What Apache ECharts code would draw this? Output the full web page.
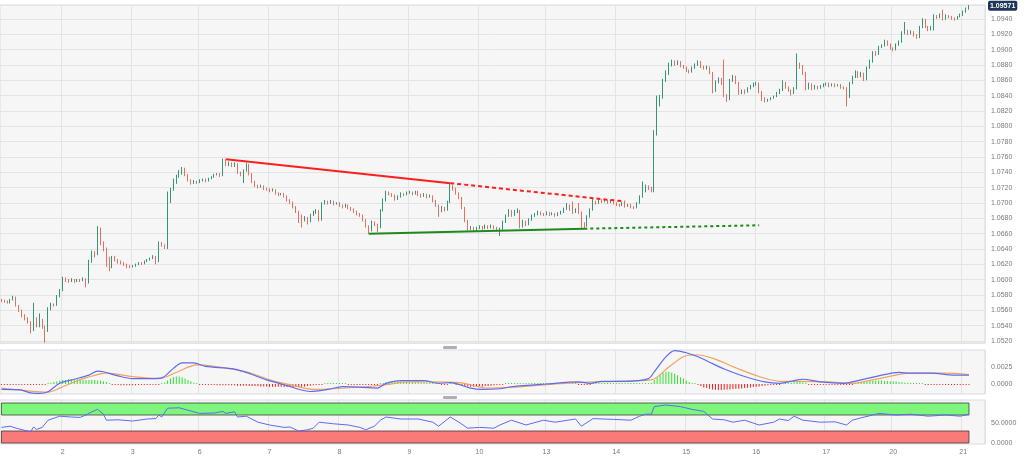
<!DOCTYPE html>
<html><head><meta charset="utf-8">
<script src="https://cdn.jsdelivr.net/npm/echarts@6/dist/echarts.min.js"></script>
<style>html,body{margin:0;padding:0;background:#fff;}#c{width:1024px;height:456px;}</style>
</head><body><div id="c"></div>
<script>
// EUR/USD hourly candles. Values in pips above 1.0000 : [open, close, low, high]
const nov01 = [[574,573,571,575],[573,572,570,574],[572,570,569,573],[570,574,569,575],[574,577,573,579],[577,566,565,578],[566,560,558,567],[560,553,551,561],[553,549,547,555],[549,545,543,551],[545,535,530,546],[535,549,533,570],[549,540,538,551],[540,548,538,556],[548,538,536,549],[538,534,518,540],[534,562,532,564],[562,568,560,570],[568,567,565,569],[567,578,566,580],[578,586,577,588]];
const nov02 = [[586,602,585,604],[602,599,597,603],[599,598,596,601],[598,600,597,602],[600,598,596,601],[598,600,597,601],[600,599,597,601],[599,601,598,603],[601,596,590,602],[596,624,595,626],[624,636,622,638],[636,633,629,637],[633,667,632,670],[667,648,645,668],[648,640,637,650],[640,629,617,642],[629,617,611,630],[617,629,615,631],[629,626,624,631],[626,624,621,627],[624,622,620,625],[622,620,618,623],[620,618,615,621],[618,617,615,619]];
const nov03 = [[617,618,616,619],[618,620,617,621],[620,622,619,623],[622,621,619,623],[621,624,620,625],[624,626,623,627],[626,628,625,629],[628,630,627,632],[630,624,620,631],[624,648,623,650],[648,645,643,649],[645,643,640,646],[643,711,640,715],[711,718,700,720],[718,727,716,732],[727,735,725,737],[735,739,733,743],[739,745,737,747],[745,737,735,746],[737,730,728,738],[730,726,724,731],[726,728,725,730],[728,727,725,729]];
const nov06 = [[727,729,726,731],[729,731,728,732],[731,729,727,732],[729,732,728,733],[732,734,731,735],[734,737,733,738],[737,738,736,739],[738,736,734,739],[736,755,735,758],[755,750,748,757],[750,752,748,754],[752,749,747,753],[749,751,747,753],[751,740,738,752],[740,737,735,741],[737,742,726,744],[742,750,741,752],[750,738,736,751],[738,728,726,739],[728,723,721,729],[723,721,719,724],[721,722,720,724],[722,719,717,723],[719,718,716,720]];
const nov07 = [[718,716,714,719],[716,717,715,719],[717,713,711,718],[713,711,709,714],[711,712,710,713],[712,709,707,713],[709,704,702,710],[704,701,699,705],[701,695,693,702],[695,689,687,696],[689,683,674,690],[683,678,668,685],[678,681,676,683],[681,676,672,682],[676,684,675,686],[684,688,683,690],[688,690,686,692],[690,678,676,691],[678,699,677,701],[699,702,698,704],[702,700,698,703],[700,702,699,704],[702,699,697,703],[699,700,698,701]];
const nov08 = [[700,697,695,701],[697,695,693,698],[695,697,694,699],[697,694,692,698],[694,692,690,695],[692,689,687,693],[689,686,684,690],[686,684,682,687],[684,678,676,685],[678,670,668,679],[670,664,660,671],[664,675,663,677],[675,672,670,676],[672,668,662,673],[668,690,667,692],[690,704,689,706],[704,714,702,716],[714,712,710,715],[712,710,708,713],[710,705,703,711],[705,708,704,710],[708,712,707,714],[712,711,709,713],[711,713,710,715]];
const nov09 = [[713,714,712,716],[714,712,710,715],[712,715,711,716],[715,711,709,716],[711,709,707,712],[709,711,708,713],[711,708,706,712],[708,709,707,711],[709,703,701,710],[703,697,695,704],[697,690,682,698],[690,694,688,696],[694,691,689,695],[691,701,690,703],[701,722,700,726],[722,719,716,724],[719,713,711,720],[713,707,705,714],[707,694,692,708],[694,677,675,695],[677,666,664,678],[666,668,665,670],[668,665,663,669],[665,667,664,669]];
const nov10 = [[667,669,666,671],[669,667,665,670],[667,670,666,672],[670,668,666,671],[668,670,667,672],[670,668,666,671],[668,665,663,669],[665,666,657,668],[666,675,665,677],[675,683,674,685],[683,690,682,692],[690,684,682,691],[684,689,683,691],[689,690,687,693],[690,669,667,691],[669,676,668,678],[676,672,670,677],[672,678,671,680],[678,683,677,685],[683,685,682,687],[685,688,684,690],[688,686,684,689],[686,685,683,687]];
const nov13 = [[685,687,684,689],[687,685,683,688],[685,686,684,688],[686,684,682,687],[684,686,683,688],[686,688,685,690],[688,692,687,694],[692,697,691,700],[697,692,690,698],[692,688,686,702],[688,691,687,693],[691,688,686,700],[688,673,668,689],[673,670,666,675],[670,682,669,684],[682,691,681,693],[691,702,690,707],[702,700,698,703],[700,704,699,706],[704,702,700,705],[702,703,701,705],[703,701,699,704],[701,702,700,704],[702,700,698,703]];
const nov14 = [[700,698,696,701],[698,697,695,699],[697,700,696,701],[700,696,694,701],[696,698,695,699],[698,695,693,699],[695,694,692,696],[694,700,693,701],[700,708,699,710],[708,716,707,728],[716,722,714,724],[722,719,717,723],[719,717,714,721],[717,790,714,795],[790,834,788,840],[834,838,826,841],[838,860,836,862],[860,869,858,873],[869,880,867,883],[880,884,878,887],[884,881,879,886],[881,884,880,886],[884,879,877,885],[879,877,875,880]];
const nov15 = [[877,873,871,878],[873,871,869,874],[871,876,870,878],[876,880,875,882],[880,884,879,886],[884,878,876,885],[878,876,874,879],[876,877,874,879],[877,870,868,878],[870,846,843,871],[846,858,845,860],[858,862,856,864],[862,856,854,863],[856,840,838,887],[840,835,832,842],[835,860,834,862],[860,865,858,867],[865,857,855,866],[857,843,841,858],[843,846,842,848],[846,845,842,848],[845,849,844,851],[849,852,848,854],[852,855,851,857]];
const nov16 = [[855,856,853,858],[856,845,843,857],[845,837,833,846],[837,833,831,838],[833,835,832,836],[835,837,834,838],[837,839,836,840],[839,843,838,845],[843,847,842,849],[847,857,846,860],[857,851,849,858],[851,847,845,852],[847,843,840,848],[843,849,842,851],[849,881,848,895],[881,878,875,883],[878,870,867,880],[870,849,847,871],[849,855,848,857],[855,849,847,856],[849,852,848,854],[852,850,848,853],[850,852,849,854],[852,854,851,856]];
const nov17 = [[854,856,853,857],[856,853,851,857],[853,855,852,856],[855,853,851,856],[853,854,852,855],[854,851,849,855],[851,850,848,852],[850,838,826,851],[838,856,837,858],[856,864,855,866],[864,871,863,873],[871,865,863,872],[865,869,864,871],[869,861,859,870],[861,876,860,878],[876,884,875,887],[884,896,883,898],[896,894,892,898],[894,903,893,905],[903,905,902,907],[905,911,904,913],[911,907,905,912],[907,902,900,908]];
const nov20 = [[902,900,898,903],[900,906,899,908],[906,910,905,912],[910,922,909,924],[922,925,920,936],[925,921,919,926],[921,923,920,925],[923,919,917,924],[919,916,914,920],[916,929,915,931],[929,939,928,941],[939,930,928,940],[930,926,924,931],[926,929,925,931],[929,944,925,946],[944,942,940,945],[942,945,941,947],[945,940,938,952],[940,944,939,946],[944,943,941,945],[943,941,939,944],[941,940,938,942],[940,943,939,944],[943,945,942,947]];
const nov21 = [[945,949,944,951],[949,953,948,955],[953,957.1,952,958]];

const dayLabels = ['1','2','3','6','7','8','9','10','13','14','15','16','17','20','21'];
const dayCandles = [nov01,nov02,nov03,nov06,nov07,nov08,nov09,nov10,nov13,nov14,nov15,nov16,nov17,nov20,nov21];
const lastPrice = 1.09571;

// trend lines: [candle index, price]
const resistance = [[77,1.0757],[154,1.07259]];
const resistanceExt = [[154,1.07259],[214,1.0702]];
const support = [[126,1.0660],[200,1.06665]];
const supportExt = [[200,1.06665],[260,1.0671]];

// MACD (units of 0.0001): [candle index, value]
const macdLine = [[0,-7.8],[6,-8.2],[10,-13],[13,-13.7],[16,-11.3],[20,1],[25,7],[30,13],[33,19],[35,18],[40,12],[45,8],[51,8],[55,9],[59,23],[62,31],[66,31],[70,26],[80,22],[86,14],[91,6],[98,-2.4],[106,-11],[112,-8],[117,-4],[124,-5],[129,-6],[132,1],[137,5],[145,5],[150,1],[154,2],[161,-6],[165,-8],[171,-7],[175,-4],[187,0],[198,3],[202,1],[206,4],[214,4],[222,8],[224,18],[228,40],[231,49],[235,46],[239,40],[244,30],[248,22],[255,11],[262,3],[267,1],[272,5],[275,7],[281,3],[289,1],[294,5],[301,12],[308,17],[312,16],[319,16],[327,13],[332,13]];
const signalLine = [[0,-6],[9,-10],[16,-12],[20,-6],[25,3],[29,9],[36,16],[45,11],[54,8],[60,17],[67,28],[73,26],[84,18],[93,5],[99,-1],[107,-8],[114,-7],[125,-4],[132,-1],[139,3],[148,3],[157,2],[167,-6],[175,-5],[187,-1],[198,2],[210,4],[223,6],[229,25],[234,40],[238,43],[244,38],[253,22],[260,11],[267,4],[275,4],[284,3],[292,1],[301,8],[312,16],[324,16],[332,14]];
const macdHist = [
 -0.5,-0.6,-0.7,-0.8,-0.8,-0.8,-0.7,-0.7,-0.6,-0.6,-0.6,-0.5,-0.5,-0.4,-0.3,-0.2,
 1,2,3,4,5,6,6,7,7,7,7,6,6,6,6,6,6,5,5,4,3,1,
 -0.5,-1,-1.5,-2,-2,-2,-2,-2,-2,-1.5,-1.5,-1.5,-1,-1,-1,-0.5,-0.5,0,
 2,5,8,10,11,11,10,8,6,4,2,1,
 -0.5,-1,-1,-1.5,-1.5,-1.5,-2,-2,-2,-2,-2,-2,-2,-2.5,-2.5,-2.5,-2.5,-3,-3,-3,-3,-3.5,-3.5,-3.5,-4,-4,-4,-4,-4,-4.5,-4.5,-4.5,-4.5,-4.5,-4,-4,-3.5,-3,-2.5,-2,-1.5,-1,-0.5,
 0.5,1,1,1,1,0.5,0.5,0,
 -0.5,-0.5,-1,-1,-1,-1,-1,-1,-1,-0.5,-0.5,
 0.5,1.5,2.5,3.5,4,4,4,4,3.5,3.5,3,3,2.5,2.5,2,2,1.5,1.5,1,0.5,0.5,
 -1,-1,-0.5,0.5,0.5,
 -0.5,-1,-2,-3,-3.5,-4,-4,-4,-3.5,-3.5,-3,-3,-2.5,-2,-1.5,-1,
 -0.5,0.5,1,1.5,1.5,1.5,1,1,1,1,1,1,1,1,1,1,1,1,1,1,1,1,1,1,1,0.5,
 -0.5,-1,-1.5,-1,-0.5,0,
 0.5,1,1,1,1,1,1,1,1,1,1,1,1,1,1,1,1,1,1,
 2,6,10,14,17,18,18,17,15,13,10,8,5,3,1.5,0.5,
 -1,-3,-5,-6,-7,-8,-8.5,-9,-9,-8.5,-8,-8,-7.5,-7,-7,-6.5,-6,-5.5,-5,-4.5,-4,-3.5,-3,-2.5,-2,-1.5,-1,-0.5,-0.5,
 0.5,1,1.5,2,2.5,3,3,2.5,2,
 -0.5,-1,-1,-1,-1,-1,-1,-1,-1,-1,-1,-1,-1,-1,-1,-0.5,
 0.5,1.5,2.5,3.5,4,4.5,5,5,5,5,4.5,4.5,4,4,3.5,3,2.5,2,2,1.5,1,1,0.5,0.5,
 -0.5,-0.5,-0.7,-0.7,-0.7,-0.7,-0.7,-0.7,-0.7,-0.7,-0.7,-0.7,-0.7,-0.5,-0.5,-0.5
];
// RSI: [candle index, value]
const rsiLine = [[0,39],[3,42],[5,37],[10,28],[11,40],[12,34],[14,39],[16,57],[20,67],[24,65],[27,64],[29,70],[31,78],[33,84],[35,72],[36,57],[40,58],[45,55],[50,60],[53,61],[54,70],[55,65],[57,87],[61,88],[64,82],[66,78],[68,74],[73,75],[76,79],[77,74],[80,78],[81,65],[84,67],[88,52],[92,45],[97,39],[99,40],[102,30],[105,33],[107,37],[109,52],[114,48],[119,45],[123,39],[125,33],[128,42],[130,57],[132,65],[137,60],[143,60],[148,52],[150,42],[154,65],[157,52],[160,37],[164,39],[169,37],[171,45],[175,57],[180,45],[186,57],[190,52],[197,60],[199,42],[203,61],[210,59],[216,57],[219,67],[221,72],[223,72],[224,91],[228,95],[233,91],[237,84],[241,79],[244,60],[248,58],[251,52],[255,57],[260,45],[265,52],[267,60],[270,56],[272,67],[275,57],[281,52],[286,53],[290,45],[292,57],[295,63],[299,70],[301,74],[307,70],[312,72],[318,67],[324,70],[329,67],[332,72]];
const rsiBands = [[70,100],[0,30]];
const macdTicks = [0, 0.0025];
const rsiTicks = [0, 50];

// ---- build ----
const categories = [];
const dayStart = new Set();
dayCandles.forEach((arr, d) => arr.forEach((c, k) => {
  if (k === 0 && d > 0) dayStart.add(categories.length);
  categories.push(dayLabels[d] + '|' + k);
}));
const lastIdx = categories.length - 1;
for (let i = 0; i < 5; i++) categories.push('pad|' + i);

const pip = p => +(1 + p / 10000).toFixed(5);
const candles = dayCandles.flat().map(c => c.map(pip));
const e4 = arr => arr.map(([i, v]) => [i, v / 10000]);

const FONT = 'Liberation Sans, Arial, sans-serif';
const LBL = { color: '#7a7a7a', fontSize: 7, fontFamily: FONT };
const UP = '#35957a', DOWN = '#e6705f';
const PRICE_MIN = 1.05175, PRICE_MAX = 1.09582;

function xAx(g, showLabel) {
  return {
    type: 'category', gridIndex: g, data: categories, boundaryGap: true,
    axisLine: { show: false }, axisTick: { show: false },
    axisLabel: Object.assign({ show: showLabel, interval: i => dayStart.has(i), formatter: v => v.split('|')[0], margin: 5 }, LBL),
    splitLine: { show: true, interval: i => dayStart.has(i), lineStyle: { color: '#e3e3e3', width: 1 } }
  };
}
const gridStyle = { show: true, backgroundColor: '#f6f6f6', borderColor: '#d6dbe4', borderWidth: 1, left: 0, width: 985 };

const option = {
  animation: false,
  backgroundColor: '#fff',
  grid: [
    Object.assign({ top: 5, height: 338 }, gridStyle),
    Object.assign({ top: 350, height: 44 }, gridStyle),
    Object.assign({ top: 400, height: 44 }, gridStyle)
  ],
  xAxis: [xAx(0, false), xAx(1, false), xAx(2, true)],
  yAxis: [
    { type: 'value', gridIndex: 0, position: 'right', min: PRICE_MIN, max: PRICE_MAX, splitNumber: 22,
      axisLine: { show: false }, axisTick: { show: false },
      axisLabel: Object.assign({ showMinLabel: false, showMaxLabel: false, formatter: v => v.toFixed(4), margin: 6 }, LBL),
      splitLine: { lineStyle: { color: '#e4e4e4', width: 1 } } },
    { type: 'value', gridIndex: 1, position: 'right', min: -0.00147, max: 0.005,
      axisLine: { show: false }, axisTick: { show: false },
      axisLabel: Object.assign({ customValues: macdTicks, formatter: v => v.toFixed(4), margin: 6 }, LBL),
      splitLine: { show: false } },
    { type: 'value', gridIndex: 2, position: 'right', min: -2.5, max: 107.5,
      axisLine: { show: false }, axisTick: { show: false },
      axisLabel: Object.assign({ customValues: rsiTicks, formatter: v => v.toFixed(4), margin: 6 }, LBL),
      splitLine: { show: false } },
    // last-price tag
    { type: 'value', gridIndex: 0, position: 'right', min: PRICE_MIN, max: PRICE_MAX,
      axisLine: { show: false }, axisTick: { show: false }, splitLine: { show: false },
      axisLabel: { customValues: [lastPrice], formatter: v => v.toFixed(5), margin: 3,
        backgroundColor: '#1d3659', color: '#fff', fontSize: 7, fontWeight: 'bold', fontFamily: FONT,
        padding: [2, 2, 1, 2], borderRadius: 2, showMinLabel: true, showMaxLabel: true } }
  ],
  series: [
    { type: 'candlestick', xAxisIndex: 0, yAxisIndex: 0, data: candles, barWidth: 1.2, z: 3,
      itemStyle: { color: UP, color0: DOWN, borderColor: UP, borderColor0: DOWN, borderWidth: 1 },
      markLine: { silent: true, symbol: ['none', 'none'], animation: false,
        data: [{ yAxis: lastPrice }],
        lineStyle: { color: '#7d8db0', width: 1, type: 'solid' },
        label: { show: false } } },
    { type: 'line', xAxisIndex: 0, yAxisIndex: 0, data: resistance, symbol: 'none', z: 4,
      lineStyle: { color: '#ff1e1e', width: 2 } },
    { type: 'line', xAxisIndex: 0, yAxisIndex: 0, data: resistanceExt, symbol: 'none', z: 4,
      lineStyle: { color: '#ff1e1e', width: 2, type: [4, 3] } },
    { type: 'line', xAxisIndex: 0, yAxisIndex: 0, data: support, symbol: 'none', z: 4,
      lineStyle: { color: '#1d8a1d', width: 2 } },
    { type: 'line', xAxisIndex: 0, yAxisIndex: 0, data: supportExt, symbol: 'none', z: 4,
      lineStyle: { color: '#1d8a1d', width: 2, type: [3, 3] } },
    { type: 'bar', xAxisIndex: 1, yAxisIndex: 1, barWidth: 1, barMinHeight: 1, z: 2,
      data: macdHist.map(v => ({ value: v / 10000, itemStyle: { color: v >= 0 ? '#2ee02e' : '#f21c1c' } })) },
    { type: 'line', xAxisIndex: 1, yAxisIndex: 1, data: e4(signalLine), symbol: 'none', smooth: 0.3, z: 3,
      lineStyle: { color: '#f5a25e', width: 1.2 } },
    { type: 'line', xAxisIndex: 1, yAxisIndex: 1, data: e4(macdLine), symbol: 'none', smooth: 0.3, z: 4,
      lineStyle: { color: '#5c6cf2', width: 1.2 } },
    { type: 'line', xAxisIndex: 2, yAxisIndex: 2, data: [], z: 1,
      markArea: { silent: true, animation: false,
        data: [
          [{ xAxis: categories[0], yAxis: rsiBands[0][0], itemStyle: { color: '#7ef57b', borderColor: 'rgba(50,60,50,0.75)', borderWidth: 1 } },
           { xAxis: categories[lastIdx], yAxis: rsiBands[0][1] }],
          [{ xAxis: categories[0], yAxis: rsiBands[1][0], itemStyle: { color: '#fa7a7a', borderColor: 'rgba(60,50,50,0.75)', borderWidth: 1 } },
           { xAxis: categories[lastIdx], yAxis: rsiBands[1][1] }]
        ] } },
    { type: 'line', xAxisIndex: 2, yAxisIndex: 2, data: rsiLine, symbol: 'none', z: 5,
      lineStyle: { color: '#5c6cf2', width: 1 } }
  ],
  graphic: [
    { type: 'rect', left: 443, top: 346, shape: { width: 14, height: 3, r: 1 }, style: { fill: '#b0b0b0' } },
    { type: 'rect', left: 443, top: 396, shape: { width: 14, height: 3, r: 1 }, style: { fill: '#b0b0b0' } }
  ]
};
const chart = echarts.init(document.getElementById('c'), null, { renderer: 'canvas' });
chart.setOption(option);
</script>
</body></html>
